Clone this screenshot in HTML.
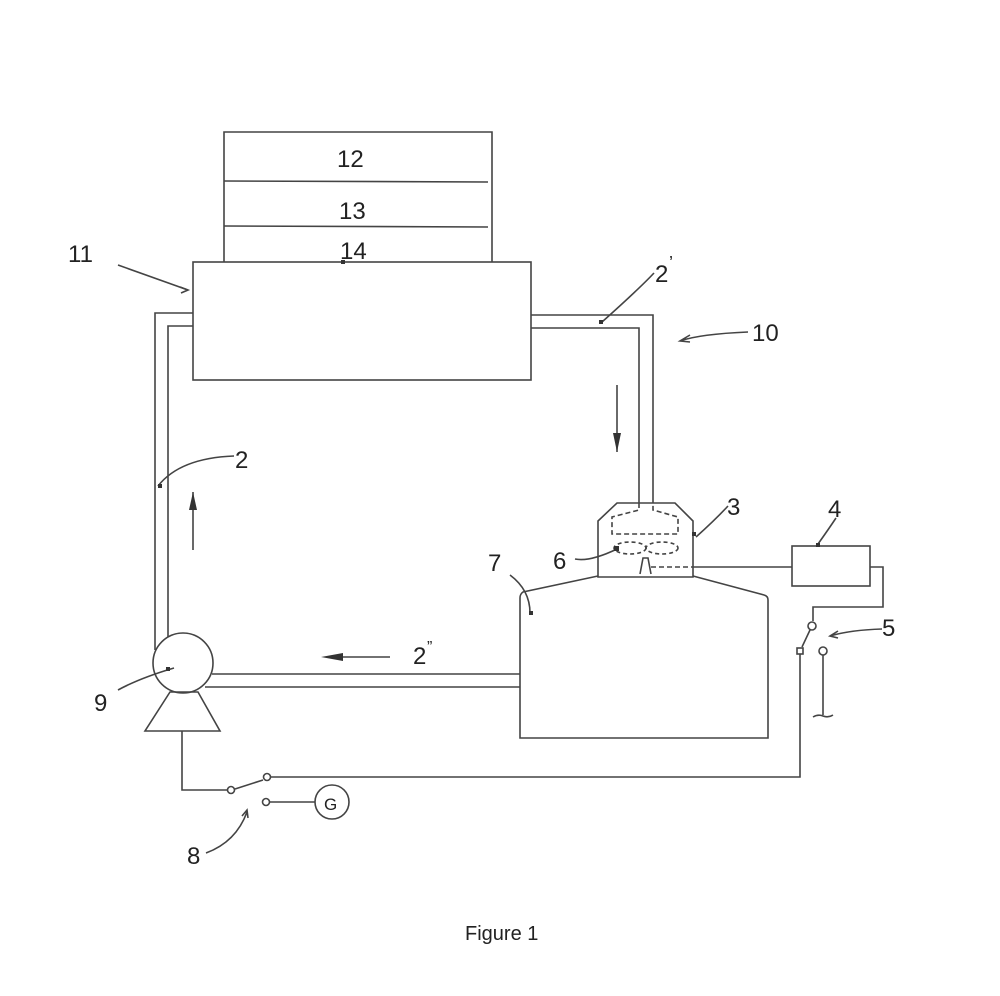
<!DOCTYPE html>
<html><head><style>
html,body{margin:0;padding:0;background:#fff;}
svg{display:block;}
text{font-family:"Liberation Sans",sans-serif;fill:#222;}
</style></head><body>
<svg width="1000" height="996" viewBox="0 0 1000 996" xmlns="http://www.w3.org/2000/svg">
<g fill="none" stroke="#444" stroke-width="1.6">
<!-- top panels -->
<path d="M224 262 V132 H492 V262"/>
<line x1="224" y1="181" x2="488" y2="182"/>
<line x1="224" y1="226" x2="488" y2="227"/>
<!-- main box -->
<rect x="193" y="262" width="338" height="118"/>
<!-- left pipe -->
<path d="M193 313 H155 V650"/>
<path d="M193 326 H168 V637"/>
<!-- right pipe -->
<path d="M531 315 H653 V503"/>
<path d="M531 328 H639 V503"/>
<!-- cap 3 -->
<path d="M598 577 V521 L617 503 H675 L693 521 V577 Z"/>
<path d="M639 503 V510 L612 517 V534 H678 V517 L653 510 V503" stroke-dasharray="5 3"/>
<!-- fan -->
<ellipse cx="630" cy="548" rx="16" ry="6" stroke-dasharray="4 3"/>
<ellipse cx="662" cy="548" rx="16" ry="6" stroke-dasharray="4 3"/>
<path d="M640 574 L643 558 H648 L651 574"/>
<line x1="651" y1="567" x2="693" y2="567" stroke-dasharray="5 3"/>
<line x1="693" y1="567" x2="792" y2="567"/>
<!-- tank 7 -->
<path d="M598 576 L523 592 Q520 594 520 598 V738 H768 V600 Q768 596 764 595 L693 576"/>
<!-- box 4 -->
<rect x="792" y="546" width="78" height="40"/>
<path d="M870 567 H883 V607 H813 V621"/>
<circle cx="812" cy="626" r="4"/>
<line x1="810" y1="630" x2="802" y2="647"/>
<rect x="797" y="648" width="6" height="6"/>
<path d="M800 654 V777 H270"/>
<circle cx="823" cy="651" r="4"/>
<path d="M823 655 V715 M813 717 Q818 714 823 716 Q828 718 833 715"/>
<!-- pump -->
<circle cx="183" cy="663" r="30"/>
<path d="M170 692 H198 L220 731 H145 Z"/>
<path d="M212 674 H520"/>
<path d="M205 687 H520"/>
<!-- wire -->
<path d="M182 731 V790 H227"/>
<circle cx="231" cy="790" r="3.5"/>
<line x1="235" y1="789" x2="263" y2="780"/>
<circle cx="267" cy="777" r="3.5"/>
<circle cx="266" cy="802" r="3.5"/>
<line x1="270" y1="802" x2="315" y2="802"/>
<circle cx="332" cy="802" r="17"/>
<!-- arrows -->
<line x1="193" y1="550" x2="193" y2="492"/>
<line x1="617" y1="385" x2="617" y2="452"/>
<line x1="390" y1="657" x2="327" y2="657"/>
<!-- leaders -->
<path d="M118 265 L188 290"/>
<path d="M180 287 L188 290 L181 293"/>
<path d="M158 486 Q180 458 234 456"/>
<path d="M602 322 Q640 288 654 273"/>
<path d="M748 332 Q700 334 680 341 M690 335 L680 341 L690 342"/>
<path d="M696 537 Q715 520 728 506"/>
<path d="M818 544 Q828 530 836 518"/>
<path d="M617 549 Q590 562 575 559"/>
<path d="M530 613 Q530 590 510 575"/>
<path d="M882 629 Q850 630 830 636 M838 631 L830 636 L838 638"/>
<path d="M174 668 Q140 678 118 690"/>
<path d="M206 853 Q236 842 247 812 M242 816 L247 810 L248 818"/>
</g>
<g fill="#333">
<polygon points="189,510 197,510 193,492"/>
<polygon points="613,433 621,433 617,452"/>
<polygon points="343,653 343,661 321,657"/>
<rect x="599" y="320" width="4" height="4"/>
<rect x="158" y="484" width="4" height="4"/>
<rect x="341" y="260" width="4" height="4"/>
<rect x="614" y="546" width="5" height="5"/>
<rect x="529" y="611" width="4" height="4"/>
<rect x="692" y="532" width="4" height="4"/>
<rect x="816" y="543" width="4" height="4"/>
<rect x="166" y="667" width="4" height="4"/>
</g>
<g font-size="24">
<text x="337" y="167">12</text>
<text x="339" y="219">13</text>
<text x="340" y="259">14</text>
<text x="68" y="262">11</text>
<text x="655" y="282">2</text>
<text x="669" y="269" font-size="18">’</text>
<text x="752" y="341">10</text>
<text x="235" y="468">2</text>
<text x="727" y="515">3</text>
<text x="828" y="517">4</text>
<text x="553" y="569">6</text>
<text x="488" y="571">7</text>
<text x="882" y="636">5</text>
<text x="413" y="664">2</text>
<text x="427" y="652" font-size="16">”</text>
<text x="94" y="711">9</text>
<text x="187" y="864">8</text>
<text x="324" y="810" font-size="17" font-family="Liberation Serif">G</text>
<text x="465" y="940" font-size="20">Figure 1</text>
</g>
</svg>
</body></html>
